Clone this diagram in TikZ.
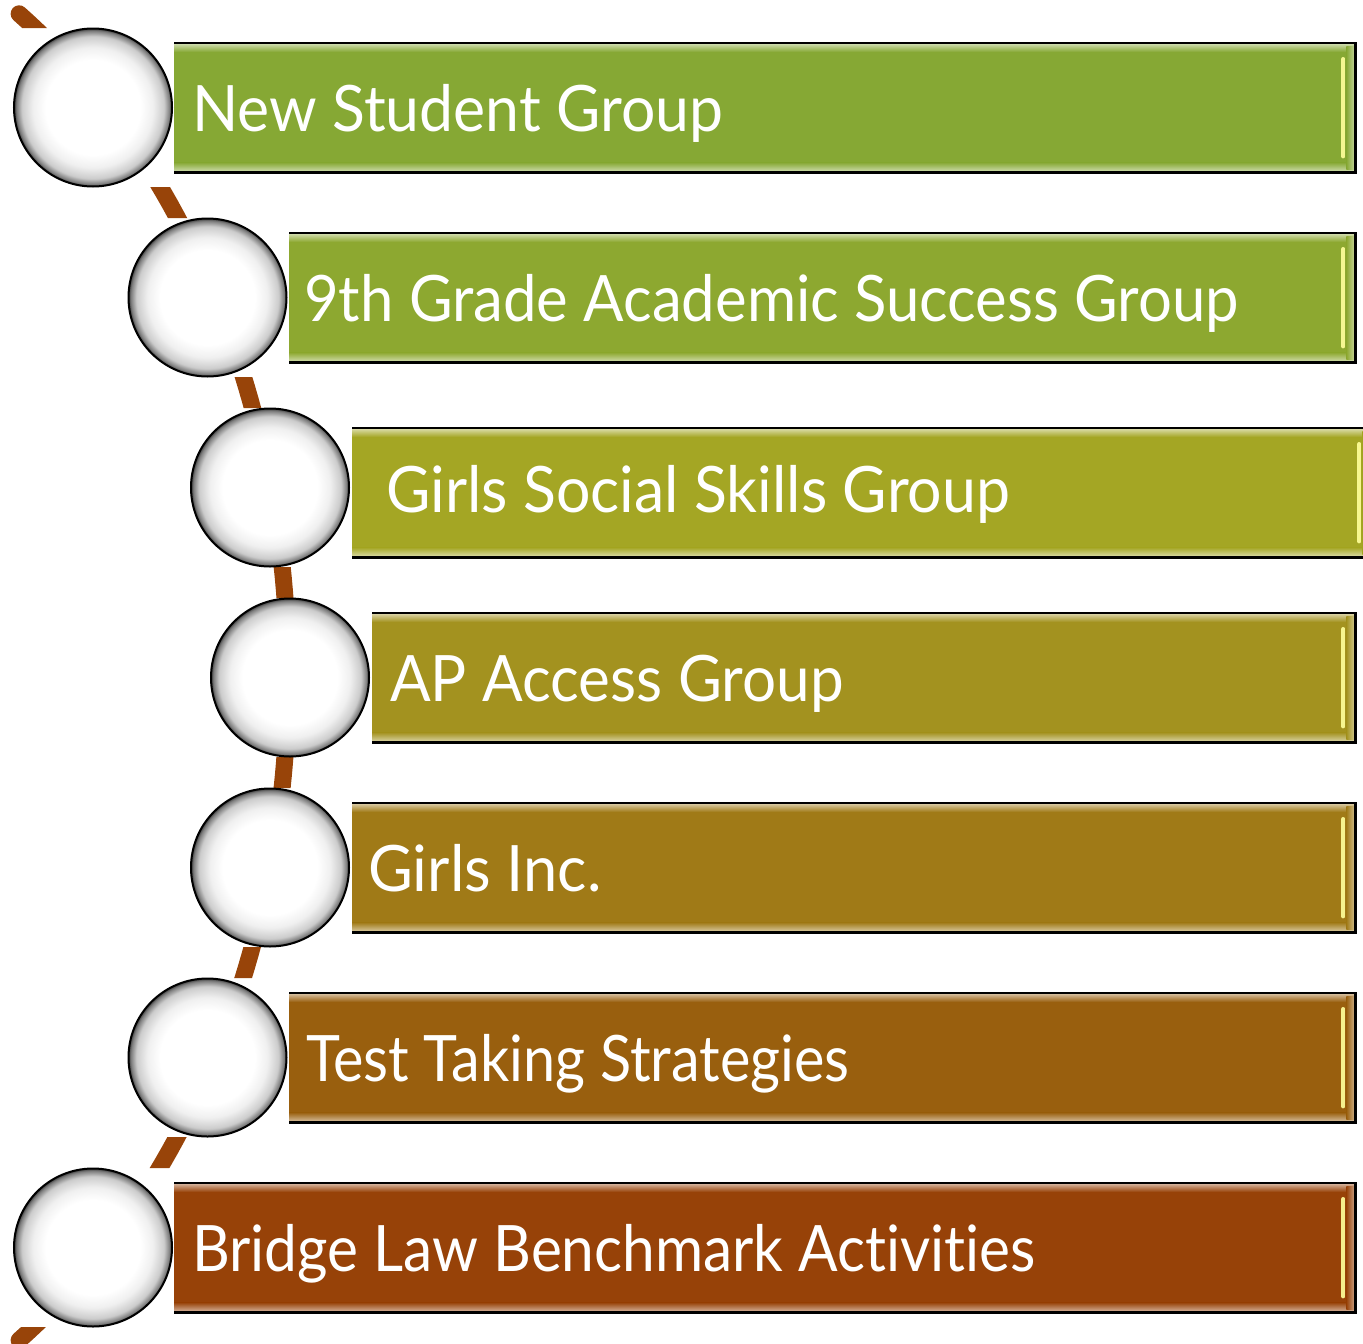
\documentclass[tikz,border=0pt]{standalone}
\usepackage{fontspec}
\setmainfont{Lato}[Ligatures=NoCommon]
\definecolor{arcbrown}{HTML}{984409}
\definecolor{cA}{HTML}{86A834}
\definecolor{cB}{HTML}{8DA830}
\definecolor{cC}{HTML}{A4A624}
\definecolor{cD}{HTML}{A3921F}
\definecolor{cE}{HTML}{A07A17}
\definecolor{cF}{HTML}{995F0E}
\definecolor{cG}{HTML}{974208}
\pgfdeclareradialshading{bead}{\pgfpoint{0bp}{0bp}}{color(0bp)=(white); color(15bp)=(white); color(19bp)=(black!6); color(22.5bp)=(black!20); color(24.2bp)=(black!50); color(25bp)=(black!75); color(50bp)=(black!75)}
\tikzset{
  bead/.style={circle, minimum size=158pt, inner sep=0pt, shading=bead, draw=black, line width=2pt},
  barbox/.style={rectangle, anchor=north west, inner sep=0pt, minimum height=129pt},
  bartext/.style={anchor=base west, inner sep=0pt, text=white, font=\fontsize{64}{70}\selectfont},
  arcline/.style={draw=arcbrown, line width=17pt, line cap=round}
}
\newcommand{\mybar}[5]{%
  % #1 name, #2 top, #3 left, #4 right, #5 colour
  \pgfmathsetmacro{\bw}{#4-#3}
  \node[barbox, fill=#5, minimum width=\bw pt] (#1) at (#3,#2) {};
  \shade[top color=#5!35!white, bottom color=#5] (#1.north west) rectangle ([yshift=-9pt]#1.north east);
  \shade[top color=#5, bottom color=#5!35!white] ([yshift=10pt]#1.south west) rectangle (#1.south east);
  \shade[left color=#5, right color=#5!45!white] ([xshift=-9pt,yshift=-3pt]#1.north east) rectangle ([yshift=3pt]#1.south east);
  \draw[line width=4pt, color=#5!20!yellow!45!white, line cap=round] ([xshift=-12pt,yshift=-16pt]#1.north east) -- ([xshift=-12pt,yshift=16pt]#1.south east);
  \draw[line width=2.5pt, black] (#1.north west) -- (#1.north east) -- (#1.south east) -- (#1.south west);
}
\begin{document}
\begin{tikzpicture}[x=1pt,y=-1pt]
\useasboundingbox (0,0) rectangle (1363,1344);
% curved spine
\begin{scope}
  \clip (0,0) rectangle (1363,28) (0,187) rectangle (1363,218) (0,377) rectangle (1363,408)
        (0,567) rectangle (1363,598) (0,757) rectangle (1363,788) (0,947) rectangle (1363,978)
        (0,1137) rectangle (1363,1168) (0,1327) rectangle (1363,1344);
  \draw[arcline] plot[domain=-56:56, samples=120] ({-322+610*cos(\x)}, {677+800*sin(\x)});
\end{scope}
% bars
\mybar{b1}{43}{174}{1355}{cA}
\mybar{b2}{233}{289}{1355}{cB}
\mybar{b3}{428}{352}{1371}{cC}
\mybar{b4}{613}{372}{1355}{cD}
\mybar{b5}{803}{352}{1355}{cE}
\mybar{b6}{993}{289}{1355}{cF}
\mybar{b7}{1183}{174}{1355}{cG}
% texts
\node[bartext] (t1) at (192,131) {\scalebox{0.948}[1]{New Student Group}};
\node[bartext] (t2) at (304,321) {\scalebox{0.935}[1]{9th Grade Academic Success Group}};
\node[bartext] (t3) at (386,512) {\scalebox{0.95}[1]{Girls Social Skills Group}};
\node[bartext] (t4) at (390,701) {\scalebox{0.94}[1]{AP Access Group}};
\node[bartext] (t5) at (368,891) {\scalebox{0.96}[1]{Girls Inc.}};
\node[bartext] (t6) at (306,1081) {\scalebox{0.90}[1]{Test Taking Strategies}};
\node[bartext] (t7) at (192,1271) {\scalebox{0.915}[1]{Bridge Law Benchmark Activities}};
% beads
\node[bead] (c1) at (93,107.5) {};
\node[bead] (c2) at (207.5,297.5) {};
\node[bead] (c3) at (270,487.5) {};
\node[bead] (c4) at (290,677.5) {};
\node[bead] (c5) at (270,867.5) {};
\node[bead] (c6) at (207.5,1057.5) {};
\node[bead] (c7) at (93,1247.5) {};
\end{tikzpicture}
\end{document}
